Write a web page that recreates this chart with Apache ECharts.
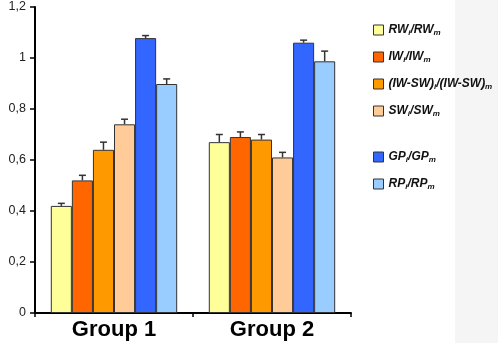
<!DOCTYPE html>
<html>
<head>
<meta charset="utf-8">
<script src="https://cdn.jsdelivr.net/npm/echarts@6/dist/echarts.min.js"></script>
<style>
  html, body { margin: 0; padding: 0; background: #fff; }
  #chart { width: 498px; height: 343px; }
</style>
</head>
<body>
<div id="chart"></div>
<script>
// Relative values by group, with upper error bars.

const groups = ['Group 1', 'Group 2']
const seriesNames = ['RWi/RWm', 'IWi/IWm', '(IW-SW)i/(IW-SW)m', 'SWi/SWm', 'GPi/GPm', 'RPi/RPm']
// legend text split into [normal, subscript, normal, subscript]
const legendParts = [
  ['RW', 'i', '/RW', 'm'],
  ['IW', 'i', '/IW', 'm'],
  ['(IW-SW)', 'i', '/(IW-SW)', 'm'],
  ['SW', 'i', '/SW', 'm'],
  ['GP', 'i', '/GP', 'm'],
  ['RP', 'i', '/RP', 'm'],
]
const colors = ['#FFFF99', '#FF6600', '#FF9900', '#FFCC99', '#3366FF', '#99CCFF']

const rw = [0.42, 0.67]
const iw = [0.52, 0.69]
const iwsw = [0.64, 0.68]
const sw = [0.74, 0.61]
const gp = [1.078, 1.06]
const rp = [0.898, 0.987]
const values = [rw, iw, iwsw, sw, gp, rp]

const rwErr = [0.01, 0.03]
const iwErr = [0.02, 0.02]
const iwswErr = [0.03, 0.02]
const swErr = [0.02, 0.02]
const gpErr = [0.01, 0.01]
const rpErr = [0.02, 0.04]
const errors = [rwErr, iwErr, iwswErr, swErr, gpErr, rpErr]

const yTicks = [0, 0.2, 0.4, 0.6, 0.8, 1, 1.2]

const chart = echarts.init(document.getElementById('chart'))

const errData = []
values.forEach((vals, s) => {
  vals.forEach((v, c) => errData.push([c, s, v, errors[s][c]]))
})

const legendRich = {
  a: { fontFamily: 'Liberation Sans, Arial', fontSize: 12, fontWeight: 'bold', fontStyle: 'italic', color: '#111' },
  s: { fontFamily: 'Liberation Sans, Arial', fontSize: 8, fontWeight: 'bold', fontStyle: 'italic', color: '#111', padding: [6, 0, 0, 0] },
}
function legendFmt(name) {
  const p = legendParts[seriesNames.indexOf(name)]
  return `{a|${p[0]}}{s|${p[1]}}{a|${p[2]}}{s|${p[3]}}`
}
const legendBase = {
  orient: 'vertical',
  left: 373,
  padding: 0,
  itemWidth: 10,
  itemHeight: 10,
  itemGap: 14,
  icon: 'rect',
  selectedMode: false,
  formatter: legendFmt,
  textStyle: { rich: legendRich },
  itemStyle: { borderColor: '#333', borderWidth: 1 },
}

chart.setOption({
  backgroundColor: '#fff',
  animation: false,
  graphic: [{
    type: 'rect',
    left: 455, top: 0,
    shape: { width: 43, height: 343 },
    style: { fill: '#f5f5f5' },
    silent: true,
    z: -1,
  }],
  legend: [
    { ...legendBase, top: 24, data: seriesNames.slice(0, 4) },
    { ...legendBase, top: 151, data: seriesNames.slice(4) },
  ],
  grid: { left: 35, right: 147, top: 7, bottom: 30 },
  xAxis: {
    type: 'category',
    data: groups,
    axisLine: { lineStyle: { color: '#000', width: 2 } },
    axisTick: { show: true, length: 4, lineStyle: { color: '#000', width: 1.5 } },
    axisLabel: {
      fontFamily: 'Liberation Sans, Arial',
      fontSize: 22,
      fontWeight: 'bold',
      color: '#000',
      margin: 6,
    },
  },
  yAxis: {
    type: 'value',
    min: 0,
    max: 1.2,
    interval: 0.2,
    splitLine: { show: false },
    axisLine: { show: true, lineStyle: { color: '#000', width: 2 } },
    axisTick: { show: true, length: 5, lineStyle: { color: '#000', width: 1.5 } },
    axisLabel: {
      fontFamily: 'Liberation Sans, Arial',
      fontSize: 12.5,
      color: '#222',
      margin: 9,
      formatter: (v) => {
        const t = yTicks.find((x) => Math.abs(x - v) < 1e-9)
        return String(t ?? v).replace('.', ',')
      },
    },
  },
  series: [
    ...values.map((vals, i) => ({
      name: seriesNames[i],
      type: 'bar',
      data: vals,
      barGap: '0%',
      barCategoryGap: '20%',
      itemStyle: { color: colors[i], borderColor: '#333', borderWidth: 1 },
    })),
    {
      type: 'custom',
      name: 'err',
      data: errData,
      z: 1,
      renderItem(params, api) {
        const c = api.value(0)
        const s = api.value(1)
        const v = api.value(2)
        const e = api.value(3)
        const band = api.size([1, 0])[0]
        const barW = band * 0.8 / seriesNames.length
        const base = api.coord([c, v])
        const top = api.coord([c, v + e])
        const x = base[0] - band * 0.4 + barW * (s + 0.5)
        const style = { stroke: '#333', lineWidth: 1.5 }
        return {
          type: 'group',
          children: [
            { type: 'line', shape: { x1: x, y1: base[1], x2: x, y2: top[1] }, style },
            { type: 'line', shape: { x1: x - 3.5, y1: top[1], x2: x + 3.5, y2: top[1] }, style },
          ],
        }
      },
    },
  ],
})
</script>
</body>
</html>
